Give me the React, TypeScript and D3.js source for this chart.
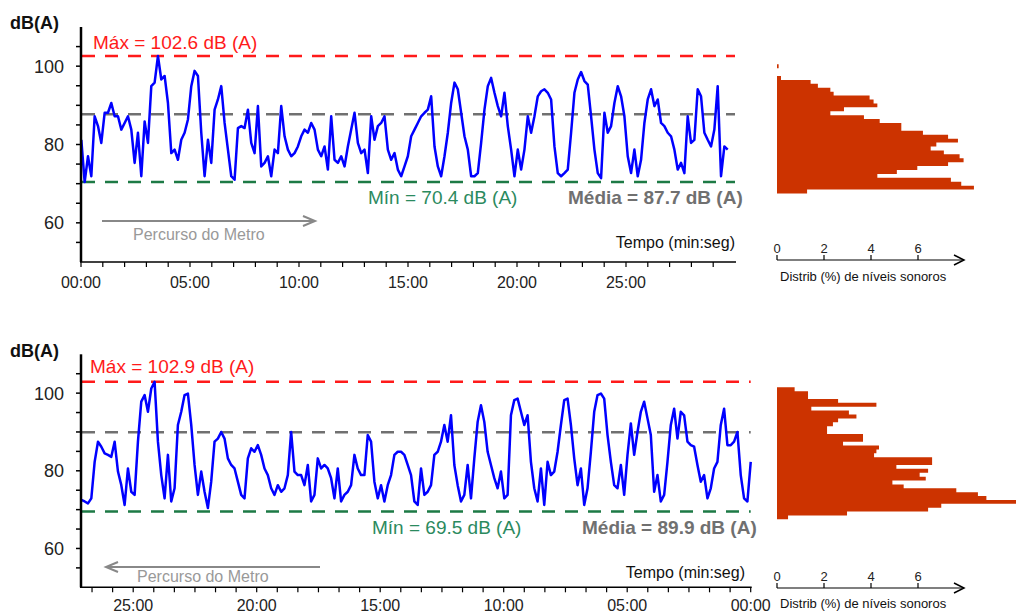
import React from 'react';
import * as d3 from 'd3';

// ---------- DATA ----------
// Top panel: outbound trip, sampled every ~9.17 s starting at 0.9 s
const TOP_START_SEC = 0.9;
const TOP_STEP_SEC = 9.17;
const topLevels = [
  81.2, 70.4, 77.0, 71.9, 87.2, 84.7, 80.4, 88.1, 88.1, 90.6,
  87.2, 87.2, 83.8, 85.5, 87.2, 83.8, 75.3, 83.0, 71.9, 85.9,
  80.4, 94.9, 95.8, 102.6, 96.6, 97.5, 90.6, 77.8, 78.7, 76.1,
  81.2, 83.0, 86.4, 94.9, 98.8, 97.5, 83.0, 71.9, 81.2, 75.3,
  88.9, 91.5, 94.9, 85.5, 78.7, 71.9, 71.0, 84.2, 84.7, 84.2,
  88.9, 80.4, 77.8, 89.8, 74.4, 75.3, 77.0, 71.9, 78.7, 77.8,
  89.8, 82.1, 78.7, 77.0, 77.8, 79.5,
  82.1, 83.8, 83.0, 85.5, 83.8, 78.7, 77.0, 79.5, 73.6, 87.2,
  76.1, 75.3, 77.0, 74.4, 79.5, 83.8, 88.1, 80.4, 77.8, 78.7,
  72.7, 87.2, 81.2, 84.7, 85.5, 87.2, 78.7, 76.1, 77.8, 73.6,
  71.9, 74.4, 77.0, 82.1, 83.8, 85.5, 87.2, 88.1, 88.9, 92.3,
  79.5, 74.4, 71.9, 77.0, 83.0, 90.6, 95.8, 94.1, 88.1, 82.1,
  78.7, 71.9, 71.9, 72.7, 80.4, 88.9, 94.9, 97.0, 93.2, 89.8,
  87.2, 93.2, 84.7, 78.7, 71.9,
  78.7, 73.6, 78.7, 87.2, 83.0, 87.2, 92.3, 93.6, 94.1, 93.2,
  91.5, 79.5, 72.7, 71.9, 72.7, 73.6, 83.0, 93.2, 96.6, 98.5,
  96.2, 95.3, 87.2, 78.7, 72.7, 71.4, 88.1, 83.0, 84.7, 90.6,
  94.9, 92.3, 87.2, 77.0, 72.7, 78.7, 71.9, 76.1, 85.5, 91.5,
  94.1, 89.8, 91.5, 85.5, 84.7, 83.0, 82.1, 78.7, 73.6, 75.3,
  72.7, 87.2, 80.4, 81.2, 94.1, 92.3, 83.0, 81.2, 79.5, 83.8,
  94.9, 71.9, 79.5, 78.7,
];

// Bottom panel: return trip (time axis reversed), ~8.09 s per sample
const BOTTOM_START_SEC = 1626;
const BOTTOM_STEP_SEC = 8.09;
const bottomLevels = [
  72.5, 72.1, 71.6, 72.9, 82.3, 87.5, 86.2, 84.5, 84.1, 83.6,
  87.5, 79.8, 76.3, 71.2, 80.6, 74.6, 73.8, 87.5, 97.8, 99.5,
  95.2, 101.2, 102.9, 87.5, 78.9, 72.9, 84.1, 72.1, 75.5, 91.8,
  95.2, 99.5, 99.9, 91.8, 81.5, 73.8, 79.8, 74.6, 70.4, 77.2,
  87.5, 88.3, 90.0, 88.3, 83.2, 81.5, 80.6, 77.2, 73.8, 72.9,
  83.2, 85.8, 84.9, 86.6, 84.1, 80.6, 78.9, 75.5, 73.8, 76.3,
  74.6, 75.5, 78.9, 90.0, 79.8, 78.9,
  78.9, 76.3, 81.5, 72.1, 73.8, 83.2, 80.6, 81.5, 80.6, 78.1,
  72.9, 80.6, 72.1, 73.8, 74.6, 76.3, 84.1, 80.6, 78.9, 78.9,
  89.2, 87.5, 77.2, 72.9, 76.3, 72.1, 76.3, 78.9, 84.1, 84.9,
  84.9, 84.1, 81.5, 78.9, 72.1, 71.2, 80.6, 73.8, 74.6, 76.3,
  84.1, 84.9, 87.5, 91.8, 87.5, 94.3, 81.5, 76.3, 72.1, 73.8,
  81.5, 72.9, 83.2, 92.6, 96.9, 92.6, 84.9, 81.5, 78.1, 75.5,
  79.8, 72.9, 73.8, 94.3, 98.2,
  98.6, 95.2, 91.8, 94.3, 82.3, 75.5, 72.1, 80.6, 71.2, 82.3,
  78.9, 79.8, 84.9, 91.8, 98.2, 98.6, 91.8, 83.2, 76.3, 80.6,
  71.2, 75.5, 84.9, 95.2, 99.5, 99.9, 98.6, 89.2, 82.3, 76.3,
  75.5, 81.5, 73.8, 84.1, 92.2, 84.1, 90.0, 95.2, 97.8, 93.5,
  89.2, 74.6, 78.9, 72.1, 73.8, 82.3, 91.8, 96.0, 88.3, 95.2,
  94.3, 87.5, 86.6, 86.2, 81.5, 77.2, 78.9, 72.9, 75.5, 80.6,
  82.3, 91.8, 96.0, 86.6, 86.6, 87.5, 90.0, 78.9, 72.9, 72.1,
  82.3,
];

const topStats = [102.6, 70.4, 87.7]; // max, min, mean
const bottomStats = [102.9, 69.5, 89.9];

// Histograms: 1 dB bins, centres listed from top (loudest) down
const topHistBins = [100, 99, 98, 97, 96, 95, 94, 93, 92, 91, 90, 89, 88, 87, 86, 85, 84, 83, 82, 81, 80, 79, 78, 77, 76, 75, 74, 73, 72, 71, 70, 69, 68];
const topHistPct = [0.07, 0, 0, 0.17, 1.43, 1.74, 2.27, 2.41, 3.94, 4.11, 4.27, 2.85, 2.27, 3.7, 4.37, 5.29, 5.29, 6.21, 7.28, 7.7, 6.78, 6.54, 7.1, 7.77, 7.94, 7.28, 5.97, 5.1, 4.27, 7.4, 7.84, 8.38, 1.28];
const bottomHistBins = [101, 100, 99, 98, 97, 96, 95, 94, 93, 92, 91, 90, 89, 88, 87, 86, 85, 84, 83, 82, 81, 80, 79, 78, 77, 76, 75, 74, 73, 72, 71, 70, 69, 68];
const bottomHistPct = [0.75, 1.32, 1.32, 2.6, 4.23, 1.46, 3.06, 3.38, 2.6, 2.38, 2.13, 2.13, 3.66, 3.66, 2.81, 4.34, 4.23, 4.13, 6.6, 6.6, 5.08, 6.43, 6.07, 6.33, 4.91, 5.39, 7.63, 8.55, 8.91, 10.18, 6.99, 6.43, 2.98, 0.47];

const yTickValues = [55, 60, 65, 70, 75, 80, 85, 90, 95, 100, 105];
const yLabelValues = [60, 80, 100];
const histTickValues = [0, 2, 4, 6];
const timeLabelSec = [0, 300, 600, 900, 1200, 1500];

const FONT = '"Liberation Sans", Arial, sans-serif';
const BLUE = '#0000ff';
const RED = '#ff1a1a';
const GREEN = '#1d7a45';
const GREEN_TXT = '#2b8a5e';
const GRAY = '#707070';
const BAR = '#cc3300';

function fmt(sec: number) {
  const m = Math.floor(sec / 60);
  const s = Math.round(sec % 60);
  return `${String(m).padStart(2, '0')}:${String(s).padStart(2, '0')}`;
}

function Panel(p: any) {
  const x = d3.scaleLinear().domain(p.xDomain).range(p.xRange);
  const y = d3.scaleLinear().domain([50, 110]).range(p.yRange);
  const xh = d3.scaleLinear().domain([0, 8]).range([777, 965]);
  const pts = p.levels.map((v: number, i: number) => [p.startSec + (p.reverse ? -1 : 1) * i * p.stepSec, v] as [number, number]);
  const line = d3.line<[number, number]>().x(d => x(d[0])).y(d => y(d[1])).curve(d3.curveLinear);
  const axisY = p.yRange[0];
  const xEnd = Math.max(p.xRange[0], p.xRange[1]);
  const ticks = d3.range(0, p.tickMax + 1, p.tickStep);
  const [mx, mn, me] = p.stats;

  // histogram outline
  let hp = `M777,${y(p.histBins[0] + 0.5)}`;
  p.histBins.forEach((b: number, i: number) => {
    hp += `L${xh(p.histPct[i])},${y(b + 0.5)}L${xh(p.histPct[i])},${y(b - 0.5)}`;
  });
  hp += `L777,${y(p.histBins[p.histBins.length - 1] - 0.5)}Z`;

  const L = p.labels;
  const ha = L.histAxisY;
  const dir = p.arrowDir;
  return (
    <g fontFamily={FONT}>
      <text x={10} y={L.dbY} fontSize={18} fontWeight="bold" fill="#111">dB(A)</text>
      <line x1={82} x2={xEnd} y1={y(mx)} y2={y(mx)} stroke={RED} strokeWidth={2.5} strokeDasharray="13,10" />
      <line x1={82} x2={xEnd} y1={y(me)} y2={y(me)} stroke={GRAY} strokeWidth={2.5} strokeDasharray="13,10" />
      <line x1={82} x2={xEnd} y1={y(mn)} y2={y(mn)} stroke={GREEN} strokeWidth={2.5} strokeDasharray="13,10" />
      <path d={line(pts) || ''} fill="none" stroke={BLUE} strokeWidth={2.5} strokeLinejoin="round" />
      <line x1={81} x2={81} y1={p.yRange[1]} y2={axisY} stroke="#000" strokeWidth={2.5} />
      {yTickValues.map(v => (
        <line key={v} x1={76} x2={81} y1={y(v)} y2={y(v)} stroke="#000" strokeWidth={1.5} />
      ))}
      {yLabelValues.map(v => (
        <text key={v} x={64} y={y(v) + 6.5} fontSize={18} textAnchor="end" fill="#222">{v}</text>
      ))}
      <line x1={80} x2={xEnd + 1} y1={axisY} y2={axisY} stroke="#000" strokeWidth={1.5} />
      {ticks.map(t => (
        <line key={t} x1={x(t)} x2={x(t)} y1={axisY} y2={axisY + 5} stroke="#000" strokeWidth={1.2} />
      ))}
      {timeLabelSec.map(t => (
        <text key={t} x={x(t)} y={axisY + L.tickLabelDy} fontSize={16} textAnchor="middle" fill="#222">{fmt(t)}</text>
      ))}
      <text x={L.maxX} y={L.maxY} fontSize={19} fill={RED}>Máx = {mx.toFixed(1)} dB (A)</text>
      <text x={L.minX} y={L.statY} fontSize={19} fill={GREEN_TXT}>Mín = {mn.toFixed(1)} dB (A)</text>
      <text x={L.mediaX} y={L.statY} fontSize={19} fontWeight="bold" fill={GRAY}>Média = {me.toFixed(1)} dB (A)</text>
      <text x={L.tempoX} y={L.tempoY} fontSize={16} textAnchor="end" fill="#111">Tempo (min:seg)</text>
      <text x={L.percX} y={L.percY} fontSize={16} fill="#999">Percurso do Metro</text>
      <g stroke="#888" strokeWidth={2} fill="none">
        <line x1={L.arrowFrom} x2={L.arrowTo} y1={L.arrowY} y2={L.arrowY} />
        <polyline points={`${L.arrowTo - 12 * dir},${L.arrowY - 5} ${L.arrowTo},${L.arrowY} ${L.arrowTo - 12 * dir},${L.arrowY + 5}`} />
      </g>
      <path d={hp} fill={BAR} />
      <line x1={777} x2={964} y1={ha} y2={ha} stroke="#000" strokeWidth={1.2} />
      <polyline points={`954,${ha - 5} 964,${ha} 954,${ha + 5}`} fill="none" stroke="#000" strokeWidth={1.5} />
      {histTickValues.map(v => (
        <g key={v}>
          <line x1={xh(v)} x2={xh(v)} y1={ha - 5} y2={ha} stroke="#000" strokeWidth={1.2} />
          <text x={xh(v)} y={ha - 7} fontSize={13} textAnchor="middle" fill="#222">{v}</text>
        </g>
      ))}
      <text x={780} y={ha + L.histTitleDy} fontSize={13} fill="#111">Distrib (%) de níveis sonoros</text>
    </g>
  );
}

export default function App() {
  return (
    <svg width={1016} height={614} style={{ position: 'absolute', left: 0, top: 0, background: '#fff' }}>
      <rect width={1016} height={614} fill="#fff" />
      <Panel
        levels={topLevels}
        startSec={TOP_START_SEC}
        stepSec={TOP_STEP_SEC}
        xDomain={[0, 1800]}
        xRange={[81, 735]}
        yRange={[262, 27]}
        tickStep={60}
        tickMax={1740}
        stats={topStats}
        histBins={topHistBins}
        histPct={topHistPct}
        reverse={false}
        arrowDir={1}
        labels={{ dbY: 29, maxX: 93, maxY: 49, minX: 368, mediaX: 568, statY: 204, tempoX: 735, tempoY: 248,
          percX: 133, percY: 240, arrowFrom: 102, arrowTo: 315, arrowY: 221, histAxisY: 260, tickLabelDy: 26, histTitleDy: 21 }}
      />
      <Panel
        levels={bottomLevels}
        startSec={BOTTOM_START_SEC}
        stepSec={BOTTOM_STEP_SEC}
        xDomain={[1626.8, 0]}
        xRange={[81, 750.7]}
        yRange={[587.3, 354.3]}
        tickStep={50}
        tickMax={1600}
        stats={bottomStats}
        histBins={bottomHistBins}
        histPct={bottomHistPct}
        reverse={true}
        arrowDir={-1}
        labels={{ dbY: 357, maxX: 90, maxY: 373, minX: 372, mediaX: 582, statY: 534, tempoX: 745, tempoY: 578,
          percX: 137, percY: 582, arrowFrom: 320, arrowTo: 106, arrowY: 567, histAxisY: 588, tickLabelDy: 24, histTitleDy: 20 }}
      />
    </svg>
  );
}
